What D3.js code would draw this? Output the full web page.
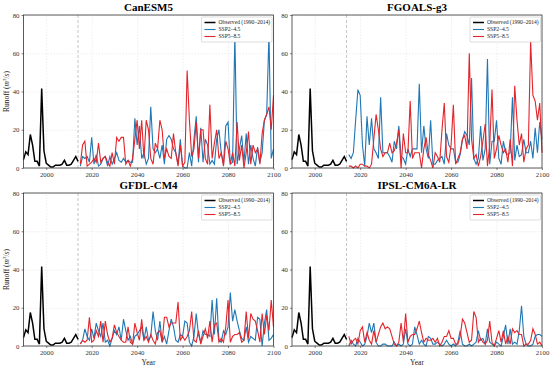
<!DOCTYPE html>
<html>
<head>
<meta charset="utf-8">
<script src="https://d3js.org/d3.v7.min.js"></script>
<style>
  body { margin: 0; background: #fff; }
  svg text { font-family: "Liberation Serif", "Times New Roman", serif; }
  .grid line { stroke: #dcdcdc; stroke-width: 0.5; stroke-dasharray: 1.5,1.5; }
  .grid path { display: none; }
  .axis text { font-size: 6.8px; fill: #333; }
  .axis path, .axis line { stroke: #333; stroke-width: 0.6; }
</style>
</head>
<body>
<svg width="550" height="366"></svg>
<script>
var models = ["CanESM5", "FGOALS-g3", "GFDL-CM4", "IPSL-CM6A-LR"];
var obsYears = d3.range(1990, 2015);
var projYears = d3.range(2015, 2101);
var yTicks = [0, 20, 40, 60, 80];
var xTicks = [2000, 2020, 2040, 2060, 2080, 2100];

var observed = [4.4, 8.5, 7, 17.5, 12, 3.5, 3.5, 1, 41.5, 9, 2.5, 1.5, 0.5, 0.5, 1.5, 1.5, 1.5, 2, 4, 1.5, 1.5, 2, 4, 6, 3.5];

var canSsp245 = [1, 6, 5, 6, 3, 16, 2, 7, 1, 2, 5, 6, 1, 6, 2, 5, 8, 4, 3, 5, 3, 4, 3, 3, 26,
  12, 22, 5, 8, 2, 5, 32, 10, 8, 10, 5, 12, 2, 15, 17, 15, 10, 8, 2, 15, 1, 0, 0, 8, 1,
  15, 27, 3, 21, 3, 15, 12, 2, 4, 2, 15, 20, 8, 2, 22, 24, 2, 3, 70, 2, 10, 17, 3, 18, 2,
  12, 5, 1, 11, 3, 8, 25, 28, 70, 5, 10];
var canSsp585 = [2, 12, 14, 1, 2, 3, 5, 3, 13, 3, 5, 6, 3, 1, 8, 2, 16, 14, 16, 16, 2, 4, 1, 5, 15,
  25, 10, 25, 5, 25, 20, 5, 2, 13, 10, 25, 20, 5, 10, 6, 5, 18, 8, 1, 12, 1, 3, 51, 25, 6,
  10, 24, 5, 20, 20, 5, 2, 33, 5, 13, 20, 5, 8, 1, 14, 10, 2, 8, 1, 24, 4, 12, 0, 8, 19,
  2, 12, 8, 10, 2, 18, 25, 28, 32, 20, 38];

var fgSsp245 = [7, 5, 8, 25, 41, 38, 12, 1, 27, 12, 26, 10, 8, 5, 37, 8, 8, 8, 6, 3, 14, 10, 22, 6, 5,
  2, 10, 6, 10, 10, 10, 44, 8, 22, 10, 5, 25, 2, 2, 4, 5, 6, 2, 18, 12, 10, 10, 3, 3, 7,
  15, 19, 17, 12, 47, 5, 2, 5, 22, 4, 10, 57, 2, 14, 14, 25, 5, 2, 14, 8, 7, 8, 37, 4, 12,
  6, 7, 15, 8, 8, 14, 5, 21, 8, 24, 15];
var fgSsp585 = [1, 1, 0, 1, 0, 2, 2, 1, 1, 0, 2, 15, 28, 20, 10, 6, 8, 8, 13, 8, 9, 13, 20, 0, 18,
  8, 8, 35, 5, 8, 8, 8, 0, 10, 16, 7, 4, 0, 8, 6, 3, 20, 34, 6, 3, 12, 33, 2, 5, 8,
  15, 17, 10, 60, 15, 5, 7, 1, 6, 14, 23, 1, 12, 41, 5, 10, 17, 12, 8, 10, 3, 15, 1, 43, 25,
  12, 18, 3, 10, 12, 66, 38, 35, 25, 34, 8];

var gfSsp245 = [1, 3, 9, 5, 3, 9, 4, 12, 8, 5, 12, 2, 3, 0, 4, 8, 6, 10, 3, 14, 8, 3, 5, 1, 5,
  6, 8, 10, 3, 10, 3, 5, 18, 8, 3, 13, 2, 5, 1, 8, 14, 10, 3, 2, 6, 5, 13, 12, 2, 0,
  5, 17, 6, 2, 8, 6, 6, 5, 24, 6, 25, 3, 2, 8, 6, 10, 28, 13, 19, 13, 8, 4, 3, 10, 2,
  5, 4, 3, 15, 14, 0, 12, 19, 3, 4, 6];
var gfSsp585 = [1, 3, 2, 3, 15, 2, 3, 8, 5, 13, 2, 13, 6, 2, 4, 11, 7, 5, 3, 2, 2, 10, 2, 1, 12,
  7, 3, 14, 3, 5, 2, 6, 3, 1, 7, 8, 2, 15, 15, 10, 12, 12, 12, 23, 3, 5, 3, 5, 8, 18,
  3, 2, 8, 1, 5, 9, 4, 13, 2, 11, 12, 2, 4, 2, 10, 24, 2, 5, 6, 6, 7, 2, 3, 18, 4,
  17, 14, 13, 8, 2, 17, 6, 16, 8, 24, 10];

var ipSsp245 = [0, 3, 1, 0, 4, 2, 0, 1, 5, 12, 7, 12, 2, 0, 0, 1, 1, 0, 0, 0, 2, 0, 1, 0, 1,
  9, 1, 0, 1, 10, 6, 1, 3, 1, 0, 5, 4, 1, 1, 2, 1, 0, 1, 3, 1, 0, 1, 0, 2, 8,
  1, 0, 0, 1, 0, 1, 2, 8, 3, 4, 1, 9, 2, 1, 0, 2, 1, 0, 5, 11, 1, 9, 1, 2, 1,
  8, 21, 5, 1, 0, 0, 1, 5, 6, 6, 5];
var ipSsp585 = [5, 1, 3, 4, 1, 8, 10, 2, 7, 3, 1, 8, 2, 6, 10, 12, 9, 10, 9, 5, 1, 0, 2, 12, 2,
  17, 2, 5, 6, 6, 9, 13, 7, 2, 4, 3, 3, 4, 2, 4, 0, 2, 5, 5, 8, 4, 4, 1, 1, 5,
  14, 12, 7, 2, 3, 18, 15, 2, 4, 2, 1, 3, 13, 2, 0, 4, 8, 2, 8, 1, 5, 1, 9, 7, 8,
  6, 6, 0, 1, 1, 3, 9, 6, 1, 2, 0];

var ssp245 = [canSsp245, fgSsp245, gfSsp245, ipSsp245];
var ssp585 = [canSsp585, fgSsp585, gfSsp585, ipSsp585];

var blue = "#1f77b4", red = "#e3242b";
var svg = d3.select("svg");

var panels = [
  {left: 23.5, top: 15},
  {left: 292, top: 15},
  {left: 23.5, top: 193},
  {left: 292, top: 193}
];
var pw = 250, ph = 153;

panels.forEach(function(p, i) {
  var g = svg.append("g").attr("transform", "translate(" + p.left + "," + p.top + ")");
  var x = d3.scaleLinear().domain([1990, 2100]).range([0, pw]);
  var y = d3.scaleLinear().domain([0, 80]).range([ph, 0]);

  g.append("g").attr("class", "grid")
    .call(d3.axisLeft(y).tickValues(yTicks).tickSize(-pw).tickFormat(""));
  g.append("g").attr("class", "grid")
    .attr("transform", "translate(0," + ph + ")")
    .call(d3.axisBottom(x).tickValues(xTicks).tickSize(-ph).tickFormat(""));

  g.append("line")
    .attr("x1", x(2014)).attr("x2", x(2014))
    .attr("y1", 0).attr("y2", ph)
    .attr("stroke", "#aaa").attr("stroke-width", 0.7)
    .attr("stroke-dasharray", "3,2");

  var line = d3.line()
    .x(function(d) { return x(d[0]); })
    .y(function(d) { return y(d[1]); });

  g.append("path")
    .datum(d3.zip(projYears, ssp245[i]))
    .attr("fill", "none").attr("stroke", blue).attr("stroke-width", 1.1)
    .attr("d", line);
  g.append("path")
    .datum(d3.zip(projYears, ssp585[i]))
    .attr("fill", "none").attr("stroke", red).attr("stroke-width", 1.1)
    .attr("d", line);
  g.append("path")
    .datum(d3.zip(obsYears, observed))
    .attr("fill", "none").attr("stroke", "#000").attr("stroke-width", 1.5)
    .attr("d", line);

  g.append("rect").attr("width", pw).attr("height", ph)
    .attr("fill", "none").attr("stroke", "#333").attr("stroke-width", 0.8);

  g.append("g").attr("class", "axis")
    .call(d3.axisLeft(y).tickValues(yTicks).tickSize(2).tickPadding(2))
    .select(".domain").remove();
  g.append("g").attr("class", "axis")
    .attr("transform", "translate(0," + ph + ")")
    .call(d3.axisBottom(x).tickValues(xTicks).tickSize(2).tickPadding(2).tickFormat(d3.format("d")))
    .select(".domain").remove();

  g.append("text")
    .attr("x", pw / 2).attr("y", -4)
    .attr("text-anchor", "middle")
    .attr("font-size", 11).attr("font-weight", "bold")
    .text(models[i]);

  if (i % 2 === 0) {
    var yl = g.append("text")
      .attr("transform", "translate(-15," + (ph / 2) + ") rotate(-90)")
      .attr("text-anchor", "middle")
      .attr("font-size", 7.5).attr("fill", "#222");
    yl.append("tspan").text("Runoff (");
    yl.append("tspan").attr("font-style", "italic").text("m");
    yl.append("tspan").attr("font-size", 5).attr("dy", -3).text("3");
    yl.append("tspan").attr("dy", 3).text("/");
    yl.append("tspan").attr("font-style", "italic").text("s");
    yl.append("tspan").text(")");
  }
  if (i >= 2) {
    g.append("text")
      .attr("x", pw / 2).attr("y", ph + 19)
      .attr("text-anchor", "middle")
      .attr("font-size", 7.5).attr("fill", "#222")
      .text("Year");
  }

  // legend
  var lg = g.append("g").attr("transform", "translate(" + (pw - 72) + ",2)");
  lg.append("rect").attr("width", 70.5).attr("height", 25)
    .attr("fill", "#fff").attr("stroke", "#bbb").attr("stroke-width", 0.5).attr("rx", 1);
  var items = [
    {label: "Observed (1990\u20132014)", color: "#000", w: 1.5},
    {label: "SSP2\u20134.5", color: blue, w: 1.1},
    {label: "SSP5\u20138.5", color: red, w: 1.1}
  ];
  items.forEach(function(it, k) {
    var yy = 5.5 + k * 7;
    lg.append("line").attr("x1", 3).attr("x2", 14).attr("y1", yy).attr("y2", yy)
      .attr("stroke", it.color).attr("stroke-width", it.w);
    lg.append("text").attr("x", 17).attr("y", yy + 1.9)
      .attr("font-size", 5.6).attr("fill", "#222").text(it.label);
  });
});
</script>
</body>
</html>
